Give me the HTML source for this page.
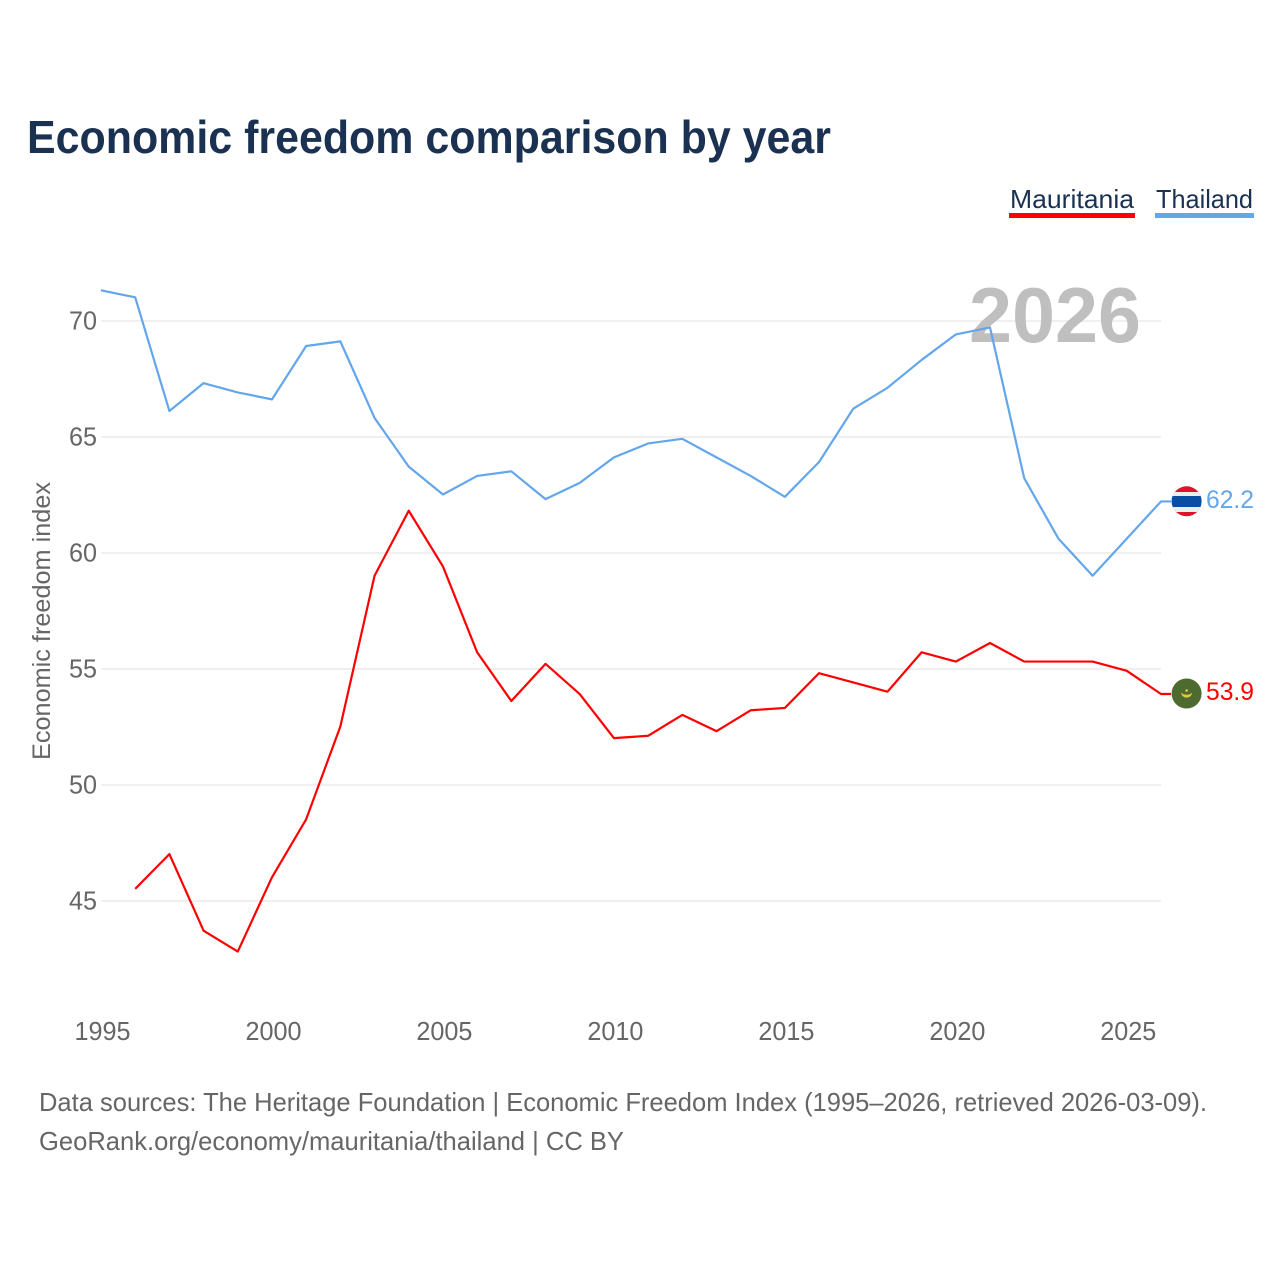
<!DOCTYPE html>
<html lang="en">
<head>
<meta charset="utf-8">
<title>Economic freedom comparison by year</title>
<style>
  html, body { margin: 0; padding: 0; background: #fff; }
  svg { display: block; font-family: "Liberation Sans", sans-serif; }
</style>
</head>
<body>
<svg id="chart" width="1280" height="1280" viewBox="0 0 1280 1280" xmlns="http://www.w3.org/2000/svg">
  <rect x="0" y="0" width="1280" height="1280" fill="#ffffff"/>
  <text x="27" y="153" font-size="46" font-weight="700" fill="#1a3152" textLength="804" lengthAdjust="spacingAndGlyphs">Economic freedom comparison by year</text>

  <g>
    <text x="1010" y="208" font-size="26" fill="#1a3152" textLength="124" lengthAdjust="spacingAndGlyphs">Mauritania</text>
    <rect x="1009" y="213" width="126" height="5" fill="#ff0000"/>
  </g>
  <g>
    <text x="1156" y="208" font-size="26" fill="#1a3152" textLength="97" lengthAdjust="spacingAndGlyphs">Thailand</text>
    <rect x="1155" y="213" width="99" height="5" fill="#63a6ec"/>
  </g>

  <g id="grid"></g>
  <g id="yticks"></g>
  <g id="xticks"></g>

  <text transform="translate(50,621) rotate(-90)" text-anchor="middle" font-size="25" fill="#666666" textLength="278" lengthAdjust="spacingAndGlyphs">Economic freedom index</text>

  <text x="969" y="342" font-size="78" font-weight="700" fill="#bfbfbf" textLength="172" lengthAdjust="spacingAndGlyphs">2026</text>

  <g id="series"></g>

  <g>
    <clipPath id="clip-th"><circle cx="1186.6" cy="501.3" r="15"/></clipPath>
    <g clip-path="url(#clip-th)">
      <rect x="1171" y="486" width="31" height="31" fill="#e0112b"/>
      <rect x="1171" y="492" width="31" height="20" fill="#eeeeee"/>
      <rect x="1171" y="496" width="31" height="11" fill="#0a4ea2"/>
    </g>
  </g>
  <g>
    <circle cx="1186.6" cy="693.5" r="15" fill="#4d6b2f"/>
    <path d="M1181.5 693.5 A5.3 5.3 0 0 0 1191.7 693.5 A6.5 4.2 0 0 1 1181.5 693.5 Z" fill="#e8c93a" stroke="#e8c93a" stroke-width="0.6"/>
    <circle cx="1186.6" cy="690.5" r="1.3" fill="#e8c93a"/>
  </g>

  <text id="end-thailand" x="1206" y="508" font-size="25" fill="#63a6ec" textLength="48" lengthAdjust="spacingAndGlyphs"></text>
  <text id="end-mauritania" x="1206" y="700" font-size="25" fill="#ff0000" textLength="48" lengthAdjust="spacingAndGlyphs"></text>

  <text x="39" y="1111" font-size="26" fill="#666666" textLength="1168" lengthAdjust="spacingAndGlyphs">Data sources: The Heritage Foundation | Economic Freedom Index (1995–2026, retrieved 2026-03-09).</text>
  <text x="39" y="1150" font-size="26" fill="#666666" textLength="585" lengthAdjust="spacingAndGlyphs">GeoRank.org/economy/mauritania/thailand | CC BY</text>
</svg>
<script>
const years = [1995,1996,1997,1998,1999,2000,2001,2002,2003,2004,2005,2006,2007,2008,2009,2010,2011,2012,2013,2014,2015,2016,2017,2018,2019,2020,2021,2022,2023,2024,2025,2026];
const thailand = [71.3,71.0,66.1,67.3,66.9,66.6,68.9,69.1,65.8,63.7,62.5,63.3,63.5,62.3,63.0,64.1,64.7,64.9,64.1,63.3,62.4,63.9,66.2,67.1,68.3,69.4,69.7,63.2,60.6,59.0,60.6,62.2];
const mauritania = [null,45.5,47.0,43.7,42.8,46.0,48.5,52.5,59.0,61.8,59.4,55.7,53.6,55.2,53.9,52.0,52.1,53.0,52.3,53.2,53.3,54.8,54.4,54.0,55.7,55.3,56.1,55.3,55.3,55.3,54.9,53.9];
const yTicks = [45,50,55,60,65,70];
const xTicks = [1995,2000,2005,2010,2015,2020,2025];

const NS = 'http://www.w3.org/2000/svg';
function xScale(year) { return 101 + (year - 1995) * (1161 - 101) / 31; }
function yScale(v) { return 321 + (70 - v) * 23.2; }

const grid = document.getElementById('grid');
const yGroup = document.getElementById('yticks');
const xGroup = document.getElementById('xticks');
const seriesGroup = document.getElementById('series');

yTicks.forEach(function (t) {
  const line = document.createElementNS(NS, 'line');
  
  
  line.setAttribute('x1', 101);
  line.setAttribute('x2', 1161);
  line.setAttribute('y1', yScale(t));
  line.setAttribute('y2', yScale(t));
  line.setAttribute('stroke', '#ececec');
  line.setAttribute('stroke-width', '1.5');
  grid.appendChild(line);

  const label = document.createElementNS(NS, 'text');
  
  
  label.setAttribute('x', 69);
  label.setAttribute('y', yScale(t) + 8.5);
  label.setAttribute('font-size', '26');
  label.setAttribute('fill', '#666666');
  label.setAttribute('textLength', '28');
  label.setAttribute('lengthAdjust', 'spacingAndGlyphs');
  label.textContent = t;
  yGroup.appendChild(label);
});

xTicks.forEach(function (t) {
  const label = document.createElementNS(NS, 'text');
  
  
  label.setAttribute('x', xScale(t) + 1.5);
  label.setAttribute('y', 1040);
  label.setAttribute('text-anchor', 'middle');
  label.setAttribute('font-size', '26');
  label.setAttribute('fill', '#666666');
  label.setAttribute('textLength', '56');
  label.setAttribute('lengthAdjust', 'spacingAndGlyphs');
  label.textContent = t;
  xGroup.appendChild(label);
});

function drawSeries(values, color, name) {
  let d = '';
  let last = null;
  values.forEach(function (v, i) {
    if (v === null) return;
    d += (d ? 'L' : 'M') + xScale(years[i]).toFixed(2) + ' ' + (yScale(v) - 0.5).toFixed(2);
    last = v;
  });
  d += 'H' + (xScale(years[years.length - 1]) + 10);
  const path = document.createElementNS(NS, 'path');
  
  
  path.setAttribute('d', d);
  path.setAttribute('fill', 'none');
  path.setAttribute('stroke', color);
  path.setAttribute('stroke-width', '2.2');
  path.setAttribute('stroke-linejoin', 'round');
  seriesGroup.appendChild(path);
  return last;
}

const lastThailand = drawSeries(thailand, '#63a6ec', 'series-line-thailand');
const lastMauritania = drawSeries(mauritania, '#ff0000', 'series-line-mauritania');
document.getElementById('end-thailand').textContent = lastThailand.toFixed(1);
document.getElementById('end-mauritania').textContent = lastMauritania.toFixed(1);
</script>
</body>
</html>
